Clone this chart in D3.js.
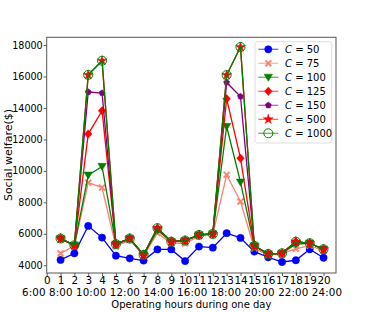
<!DOCTYPE html>
<html>
<head>
<meta charset="utf-8">
<script src="https://cdn.jsdelivr.net/npm/d3@7"></script>
<style>
  body { margin: 0; background: #fff; }
  text { font-family: "DejaVu Sans", sans-serif; fill: #000; }
</style>
</head>
<body>
<div id="chart"></div>
<script>
var hours = d3.range(1, 21);
var xTicks = d3.range(0, 21);
var yTicks = [4000, 6000, 8000, 10000, 12000, 14000, 16000, 18000];
var timeLabels = ['6:00', '8:00', '10:00', '12:00', '14:00', '16:00', '18:00', '20:00', '22:00', '24:00'];

var c50   = [4340, 4760, 6500, 5760, 4610, 4440, 4300, 5010, 5010, 4270, 5190, 5120, 6040, 5740, 4870, 4510, 4210, 4320, 5020, 4480];
var c75   = [4760, 5230, 9250, 8940, 5190, 5620, 4600, 6050, 5400, 5400, 5850, 5950, 9750, 8050, 5080, 4650, 4750, 5050, 5250, 4950];
var c100  = [5690, 5270, 9730, 10280, 5340, 5690, 4660, 6230, 5500, 5560, 5930, 5990, 12820, 9280, 5230, 4720, 4760, 5350, 5400, 5020];
var c125  = [5700, 5270, 12340, 13820, 5330, 5700, 4660, 6350, 5500, 5570, 5930, 5990, 14580, 10810, 5230, 4720, 4760, 5500, 5400, 5020];
var c150  = [5700, 5270, 15010, 14950, 5340, 5700, 4660, 6360, 5500, 5570, 5930, 5990, 15620, 14730, 5230, 4720, 4760, 5500, 5400, 5020];
var c500  = [5700, 5270, 16100, 17000, 5340, 5700, 4660, 6360, 5500, 5570, 5930, 5990, 16090, 17870, 5230, 4720, 4760, 5500, 5400, 5020];
var c1000 = [5700, 5270, 16100, 17000, 5340, 5700, 4660, 6360, 5500, 5570, 5930, 5990, 16090, 17870, 5230, 4720, 4760, 5500, 5400, 5020];

var width = 374, height = 312;
var margin = { top: 37.3, right: 38, bottom: 39, left: 46.7 };

// matplotlib-like marker shapes
var symbolX = {
  draw: function(ctx, size) {
    var r = Math.sqrt(size) / 2, t = r * 0.32;
    var pts = [[0, -t], [r - t, -r], [r, -r + t], [t, 0], [r, r - t], [r - t, r], [0, t], [-r + t, r], [-r, r - t], [-t, 0], [-r, -r + t], [-r + t, -r]];
    ctx.moveTo(pts[0][0], pts[0][1]);
    for (var i = 1; i < pts.length; i++) ctx.lineTo(pts[i][0], pts[i][1]);
    ctx.closePath();
  }
};
var symbolPentagon = {
  draw: function(ctx, size) {
    var r = Math.sqrt(size) / 1.6;
    for (var i = 0; i < 5; i++) {
      var a = -Math.PI / 2 + i * 2 * Math.PI / 5;
      if (i === 0) ctx.moveTo(r * Math.cos(a), r * Math.sin(a));
      else ctx.lineTo(r * Math.cos(a), r * Math.sin(a));
    }
    ctx.closePath();
  }
};
var symbolTriDown = {
  draw: function(ctx, size) {
    var r = Math.sqrt(size) / 1.5;
    ctx.moveTo(-r, -r * 0.75);
    ctx.lineTo(r, -r * 0.75);
    ctx.lineTo(0, r * 0.95);
    ctx.closePath();
  }
};
var symbolDiamondWide = {
  draw: function(ctx, size) {
    var r = Math.sqrt(size) / 1.6;
    ctx.moveTo(0, -r);
    ctx.lineTo(r * 0.9, 0);
    ctx.lineTo(0, r);
    ctx.lineTo(-r * 0.9, 0);
    ctx.closePath();
  }
};

var series = [
  { name: '50',   values: c50,   color: '#0000ff', symbol: d3.symbolCircle, size: 42, fill: true },
  { name: '75',   values: c75,   color: '#fa8072', symbol: symbolX,         size: 46, fill: true },
  { name: '100',  values: c100,  color: '#008000', symbol: symbolTriDown,   size: 40, fill: true },
  { name: '125',  values: c125,  color: '#ff0000', symbol: symbolDiamondWide, size: 46, fill: true },
  { name: '150',  values: c150,  color: '#800080', symbol: symbolPentagon,  size: 26, fill: true },
  { name: '500',  values: c500,  color: '#ff0000', symbol: d3.symbolStar,   size: 30, fill: true },
  { name: '1000', values: c1000, color: '#008000', symbol: d3.symbolCircle, size: 64, fill: false }
];

var x = d3.scaleLinear().domain([0, 20.9]).range([margin.left, width - margin.right]);
var y = d3.scaleLinear().domain([3510, 18490]).range([height - margin.bottom, margin.top]);

var svg = d3.select('#chart').append('svg')
  .attr('width', width)
  .attr('height', height);

// axes
var xAxis = svg.append('g')
  .attr('transform', 'translate(0,' + (height - margin.bottom) + ')')
  .call(d3.axisBottom(x).tickValues(xTicks).tickFormat(d3.format('d')).tickSize(3).tickPadding(1));
xAxis.selectAll('text').style('font-size', '10.4px');

var yAxis = svg.append('g')
  .attr('transform', 'translate(' + margin.left + ',0)')
  .call(d3.axisLeft(y).tickValues(yTicks).tickFormat(d3.format('d')).tickSize(3).tickPadding(1));
yAxis.selectAll('text').style('font-size', '9.6px');

svg.selectAll('.domain').remove();
svg.selectAll('.tick line').attr('stroke', '#333').attr('stroke-width', 0.8);

// frame
svg.append('rect')
  .attr('x', margin.left)
  .attr('y', margin.top)
  .attr('width', width - margin.left - margin.right)
  .attr('height', height - margin.top - margin.bottom)
  .attr('fill', 'none')
  .attr('stroke', '#555')
  .attr('stroke-width', 1);

var line = d3.line()
  .x(function(d, i) { return x(hours[i]); })
  .y(function(d) { return y(d); });

series.forEach(function(s) {
  var g = svg.append('g');
  g.append('path')
    .datum(s.values)
    .attr('d', line)
    .attr('fill', 'none')
    .attr('stroke', s.color)
    .attr('stroke-width', 1.3);
  g.selectAll('path.m')
    .data(s.values)
    .enter()
    .append('path')
    .attr('class', 'm')
    .attr('d', d3.symbol().type(s.symbol).size(s.size))
    .attr('transform', function(d, i) { return 'translate(' + x(hours[i]) + ',' + y(d) + ')'; })
    .attr('fill', s.fill ? s.color : 'none')
    .attr('stroke', s.color)
    .attr('stroke-width', s.fill ? 0.5 : 1);
});

// x label: clock times on the first line, title on the second
svg.append('text')
  .attr('x', 182)
  .attr('y', 296.3)
  .attr('text-anchor', 'middle')
  .attr('textLength', 320)
  .attr('lengthAdjust', 'spacing')
  .style('font-size', '10.3px')
  .text(timeLabels.join(' '));

svg.append('text')
  .attr('x', (margin.left + width - margin.right) / 2)
  .attr('y', 307.5)
  .attr('text-anchor', 'middle')
  .style('font-size', '10px')
  .text('Operating hours during one day');

svg.append('text')
  .attr('transform', 'translate(11.5,155) rotate(-90)')
  .attr('text-anchor', 'middle')
  .style('font-size', '11px')
  .text('Social welfare($)');

// legend
var legend = svg.append('g').attr('transform', 'translate(255,41.7)');
legend.append('rect')
  .attr('width', 76.7)
  .attr('height', 101.3)
  .attr('rx', 2.5)
  .attr('fill', '#fff')
  .attr('fill-opacity', 0.8)
  .attr('stroke', '#d6d6d6')
  .attr('stroke-width', 0.8);

var keys = legend.selectAll('.legend-key')
  .data(series)
  .enter()
  .append('g')
  .attr('class', 'legend-key')
  .attr('transform', function(d, i) { return 'translate(0,' + (7.6 + i * 14) + ')'; });

keys.append('line')
  .attr('x1', 3.3).attr('x2', 23.3)
  .attr('stroke', function(d) { return d.color; })
  .attr('stroke-opacity', 0.6)
  .attr('stroke-width', 1.3);
keys.append('path')
  .attr('d', function(d) { return d3.symbol().type(d.symbol).size(d.size)(); })
  .attr('transform', 'translate(13.3,0)')
  .attr('fill', function(d) { return d.fill ? d.color : 'none'; })
  .attr('stroke', function(d) { return d.color; })
  .attr('stroke-width', function(d) { return d.fill ? 0.5 : 1; });

var lt = keys.append('text')
  .attr('x', 30)
  .attr('y', 3.6)
  .style('font-size', '10px');
lt.append('tspan').style('font-style', 'italic').text('C');
lt.append('tspan').text(function(d) { return ' = ' + d.name; });
</script>
</body>
</html>
